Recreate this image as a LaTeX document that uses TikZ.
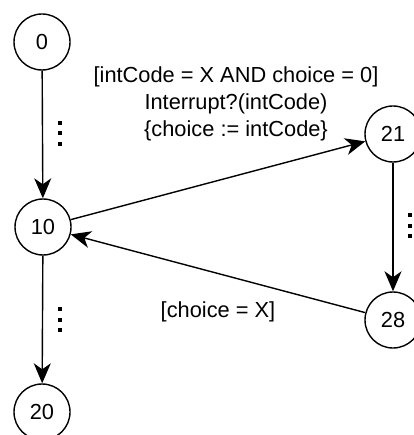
\documentclass[tikz,border=0pt]{standalone}
\usepackage{fontspec}
\setmainfont{Liberation Sans}
\usetikzlibrary{arrows.meta}
\tikzset{
  state/.style={circle, draw, line width=1.4pt, minimum size=56pt, inner sep=0pt, font=\fontsize{21.8}{26}\selectfont},
  trans/.style={line width=1.4pt, -{Stealth[length=20pt, width=17pt, inset=6pt]}},
  lbl/.style={font=\fontsize{21.8}{27}\selectfont, align=center, inner sep=0pt},
  dotmark/.style={fill=black, minimum size=4pt, inner sep=0pt},
}
\begin{document}
\begin{tikzpicture}[x=1pt, y=-1pt]
  \useasboundingbox (0,0) rectangle (413,435);
  \node[state] (s0)  at (42,42)   {0};
  \node[state] (s10) at (43,227)  {10};
  \node[state] (s20) at (42,412)  {20};
  \node[state] (s21) at (393,134) {21};
  \node[state] (s28) at (393,320) {28};

  \draw[trans] (s0) -- (s10);
  \draw[trans] (s10) -- (s20);
  \draw[trans] (s10) -- (s21);
  \draw[trans] (s21) -- (s28);
  \draw[trans] (s28) -- (s10);

  % elided states along the vertical paths
  \foreach \x/\y in {60/123, 60/309, 410/215} {
    \node[dotmark] at (\x,\y) {};
    \node[dotmark] at (\x,\y+10.5) {};
    \node[dotmark] at (\x,\y+21) {};
  }

  \node[lbl] (guard) at (236,104) {[intCode = X AND choice = 0]\\Interrupt?(intCode)\\\{choice := intCode\}};
  \node[lbl] (back) at (218,312) {[choice = X]};
\end{tikzpicture}
\end{document}
